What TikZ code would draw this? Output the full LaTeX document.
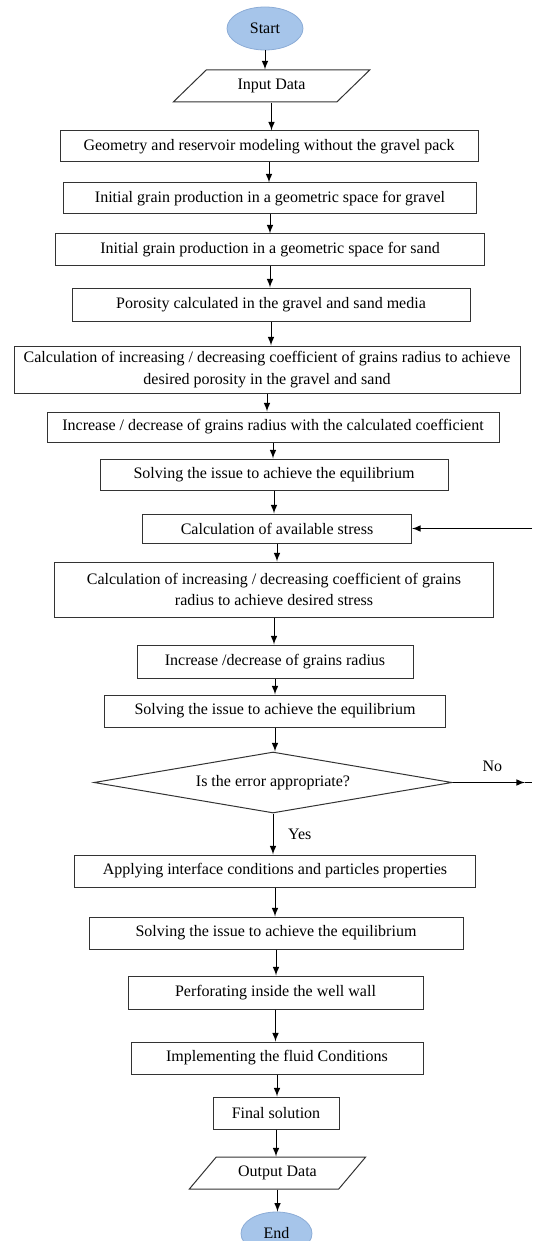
\documentclass[tikz,border=0pt]{standalone}
\usepackage{fontspec}
\setmainfont{Liberation Serif}
\usetikzlibrary{shapes.geometric}
\definecolor{termblue}{RGB}{166,197,234}
\definecolor{termline}{RGB}{140,172,214}

\begin{document}
\begin{tikzpicture}[x=0.5pt, y=-0.5pt, font=\fontsize{8}{10.75}\selectfont,
      box/.style={draw=black!80, line width=0.5pt, inner sep=0pt, align=center},
      io/.style={trapezium, trapezium left angle=39, trapezium right angle=141,
                 trapezium stretches=true, draw=black!80, line width=0.5pt, inner sep=0pt},
      term/.style={ellipse, fill=termblue, draw=termline, line width=0.4pt, inner sep=0pt,
                   minimum height=21.5pt},
      flow/.style={line width=0.5pt, -latex}]
      \useasboundingbox (0, 0) rectangle (532, 1241);
      \node (start) [term, minimum width=38pt] at (265, 28.5) {Start};
      \node (input) [io, minimum width=98.5pt, minimum height=16pt] at (271.5, 86) {Input Data};
      \node (geom) [box, minimum width=209pt, minimum height=15.5pt] at (269, 146.5)
            {Geometry and reservoir modeling without the gravel pack};
      \node (gravel) [box, minimum width=206.5pt, minimum height=15.5pt] at (270, 198.5)
            {Initial grain production in a geometric space for gravel};
      \node (sand) [box, minimum width=214.5pt, minimum height=15.5pt] at (270, 249.5)
            {Initial grain production in a geometric space for sand};
      \node (poros) [box, minimum width=199pt, minimum height=16.5pt] at (271, 304.5)
            {Porosity calculated in the gravel and sand media};
      \node (coefpor) [box, minimum width=253pt, minimum height=23.5pt] at (267, 369.5)
            {Calculation of increasing / decreasing coefficient of grains radius to achieve\\
             desired porosity in the gravel and sand};
      \node (radcoef) [box, minimum width=226pt, minimum height=15pt] at (273, 427)
            {Increase / decrease of grains radius with the calculated coefficient};
      \node (solvea) [box, minimum width=174pt, minimum height=15.5pt] at (274, 474.5)
            {Solving the issue to achieve the equilibrium};
      \node (stress) [box, minimum width=134.5pt, minimum height=14.5pt] at (277, 528.5)
            {Calculation of available stress};
      \node (coefstr) [box, minimum width=219.5pt, minimum height=27.5pt] at (274, 589.5)
            {Calculation of increasing / decreasing coefficient of grains\\
             radius to achieve desired stress};
      \node (radius) [box, minimum width=138pt, minimum height=16.5pt] at (275, 661.5)
            {Increase /decrease of grains radius};
      \node (solveb) [box, minimum width=170.5pt, minimum height=16pt] at (275, 711)
            {Solving the issue to achieve the equilibrium};
      \node (error) [diamond, shape aspect=5.87, draw=black!80, line width=0.5pt, inner sep=0pt,
            minimum width=179pt, minimum height=30.5pt] at (273, 782.5) {Is the error appropriate?};
      \node (apply) [box, minimum width=200.5pt, minimum height=16pt] at (275, 871)
            {Applying interface conditions and particles properties};
      \node (solvec) [box, minimum width=187pt, minimum height=16pt] at (276, 933)
            {Solving the issue to achieve the equilibrium};
      \node (perf) [box, minimum width=147.5pt, minimum height=16.5pt] at (275.5, 992.5)
            {Perforating inside the well wall};
      \node (fluid) [box, minimum width=146pt, minimum height=16pt] at (277, 1058)
            {Implementing the fluid Conditions};
      \node (final) [box, minimum width=63pt, minimum height=16pt] at (276, 1113)
            {Final solution};
      \node (output) [io, minimum width=88.5pt, minimum height=16pt] at (277.5, 1173) {Output Data};
      \node (end) [term, minimum width=35.5pt] at (276.5, 1233.5) {End};
      \coordinate (noend) at (525, 782.5);
      \coordinate (noedge) at (532, 782.5);
      \coordinate (back) at (532, 528.5);
      \path[flow] (start.south) edge (start.south |- input.north)
                  (input.south) edge (input.south |- geom.north)
                  (geom.south) edge (geom.south |- gravel.north)
                  (gravel.south) edge (gravel.south |- sand.north)
                  (sand.south) edge (sand.south |- poros.north)
                  (poros.south) edge (poros.south |- coefpor.north)
                  (coefpor.south) edge (coefpor.south |- radcoef.north)
                  (radcoef.south) edge (radcoef.south |- solvea.north)
                  (solvea.south) edge (solvea.south |- stress.north)
                  (stress.south) edge (stress.south |- coefstr.north)
                  (coefstr.south) edge (coefstr.south |- radius.north)
                  (radius.south) edge (radius.south |- solveb.north)
                  (solveb.south) edge (solveb.south |- error.north)
                  (error.south) edge node [right, xshift=4pt] {Yes} (error.south |- apply.north)
                  (apply.south) edge (apply.south |- solvec.north)
                  (solvec.south) edge (solvec.south |- perf.north)
                  (perf.south) edge (perf.south |- fluid.north)
                  (fluid.south) edge (fluid.south |- final.north)
                  (final.south) edge (final.south |- output.north)
                  (output.south) edge (output.south |- end.north)
                  (error.east) edge node [above, pos=.55, inner sep=5pt] {No} (noend)
                  (back) edge (stress.east);
      \draw[line width=0.5pt] (noend) -- (noedge);
\end{tikzpicture}
\end{document}
